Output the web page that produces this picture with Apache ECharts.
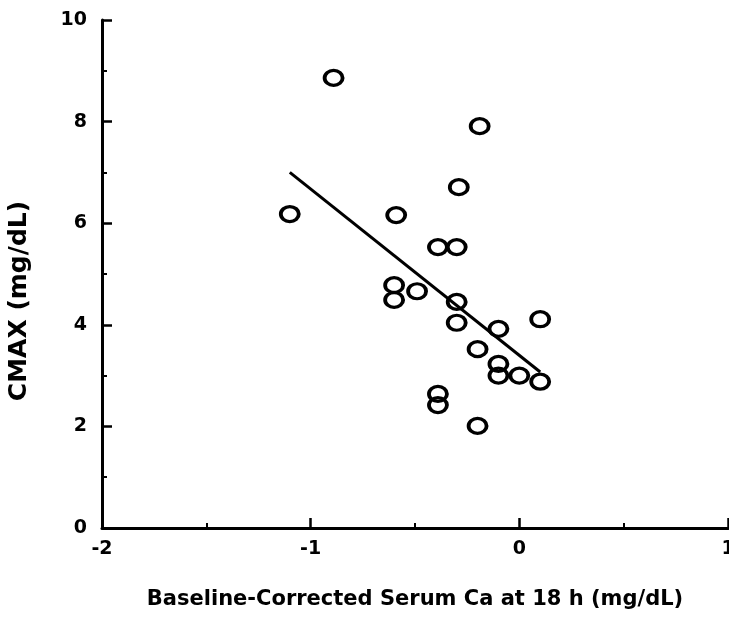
<!DOCTYPE html>
<html>
<head>
<meta charset="utf-8">
<script src="https://cdn.jsdelivr.net/npm/echarts@6/dist/echarts.min.js"></script>
<style>
  html, body { margin: 0; padding: 0; background: #fff; overflow: hidden; }
  #chart { width: 729px; height: 617px; }
</style>
</head>
<body>
<div id="chart"></div>
<script>
// observed points: baseline-corrected serum Ca at 18 h vs CMAX
var serumCa = [-0.89, -0.19, -0.29, -1.10, -0.59, -0.39, -0.30, -0.60, -0.60, -0.49,
  -0.30, -0.30, -0.10, 0.10, -0.20, -0.10, -0.10, 0.00, 0.10, -0.39, -0.39, -0.20];
var cmax = [8.86, 7.91, 6.71, 6.18, 6.16, 5.53, 5.53, 4.78, 4.49, 4.66,
  4.45, 4.04, 3.92, 4.11, 3.52, 3.23, 3.00, 3.00, 2.88, 2.64, 2.42, 2.01];

// fitted regression line end points
var fitX = [-1.10, 0.10];
var fitY = [7.00, 3.07];

var xTicks = [-2, -1, 0, 1];
var yTicks = [0, 2, 4, 6, 8, 10];

var FONT = '"DejaVu Sans", "Liberation Sans", Arial, sans-serif';

var chart = echarts.init(document.getElementById('chart'), null, { renderer: 'canvas' });

function pairs(xs, ys) {
  return xs.map(function (x, i) { return [x, ys[i]]; });
}

function axisCommon() {
  return {
    axisLine: { show: true, onZero: false, lineStyle: { color: '#000', width: 3 } },
    axisTick: { show: true, inside: true, length: 10, lineStyle: { color: '#000', width: 2.5 } },
    minorTick: { show: true, splitNumber: 2, length: 5, lineStyle: { color: '#000', width: 2 } },
    splitLine: { show: false },
    axisLabel: { color: '#000', fontFamily: FONT, fontWeight: 'bold', fontSize: 19 },
    nameTextStyle: { color: '#000', fontFamily: FONT, fontWeight: 'bold', fontSize: 21 },
  };
}

var xAxis = Object.assign(axisCommon(), {
  type: 'value', min: xTicks[0], max: xTicks[xTicks.length - 1], interval: 1,
  name: 'Baseline-Corrected Serum Ca at 18 h (mg/dL)',
  nameLocation: 'middle', nameGap: 61,
});
xAxis.axisLabel.margin = 12;

var yAxis = Object.assign(axisCommon(), {
  type: 'value', min: yTicks[0], max: yTicks[yTicks.length - 1], interval: 2,
  name: 'CMAX (mg/dL)',
  nameLocation: 'middle', nameGap: 70, nameRotate: 90,
});
yAxis.axisLabel.margin = 15;
yAxis.nameTextStyle.fontSize = 25;
// push the rotated title a little below the axis middle, as in the original
yAxis.nameTextStyle.padding = [0, 54, 0, 0];

chart.setOption({
  animation: false,
  backgroundColor: '#fff',
  // the "1" label is cut by the right edge in the original, so don't keep labels inside
  grid: { left: 102, right: 1, top: 20, bottom: 89, containLabel: false, outerBoundsMode: 'none' },
  xAxis: xAxis,
  yAxis: yAxis,
  series: [
    {
      type: 'line',
      data: pairs(fitX, fitY),
      symbol: 'none',
      lineStyle: { color: '#000', width: 3 },
      z: 2,
    },
    {
      type: 'scatter',
      data: pairs(serumCa, cmax),
      symbol: 'circle',
      symbolSize: [18, 15],
      itemStyle: { color: 'rgba(255,255,255,0)', borderColor: '#000', borderWidth: 3.5, opacity: 1 },
      z: 3,
    },
  ],
});
</script>
</body>
</html>
